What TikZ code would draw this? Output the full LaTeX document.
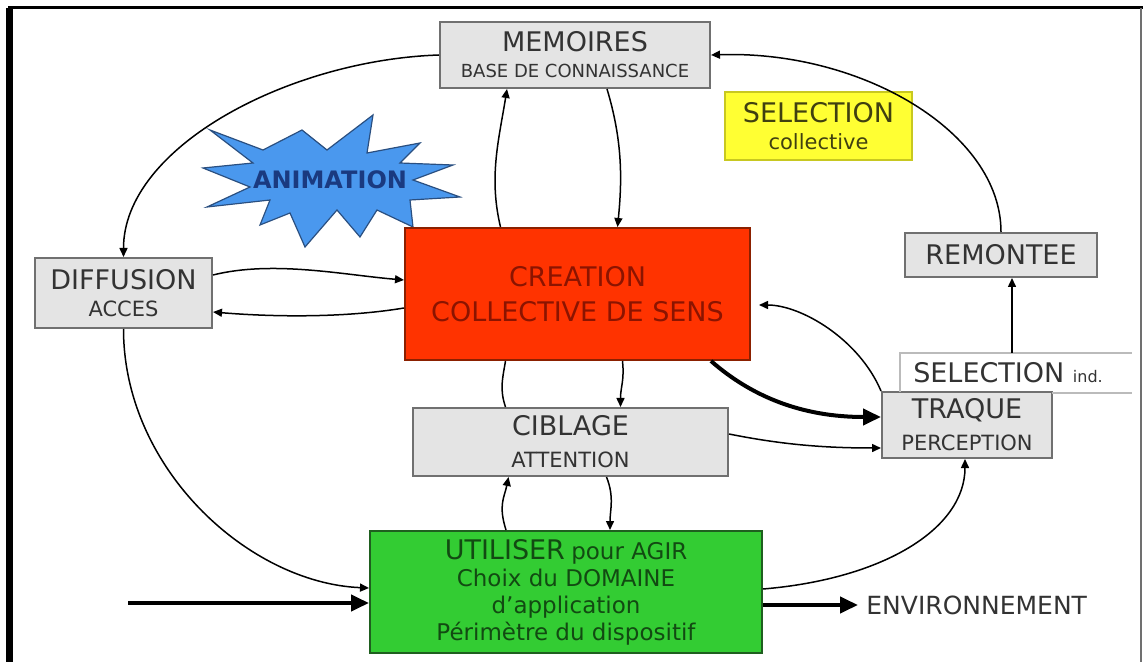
\documentclass[tikz,border=0pt]{standalone}
\usepackage{fontspec}
\setmainfont{DejaVu Sans}
\usetikzlibrary{arrows.meta,calc}

\definecolor{boxgray}{HTML}{E4E4E4}
\definecolor{edgegray}{HTML}{707070}
\definecolor{textgray}{HTML}{333333}
\definecolor{selyellow}{HTML}{FFFF33}
\definecolor{seledge}{HTML}{C8C820}
\definecolor{seltext}{HTML}{404010}
\definecolor{creafill}{HTML}{FF3300}
\definecolor{creaedge}{HTML}{8B2000}
\definecolor{creatext}{HTML}{8B1400}
\definecolor{utilfill}{HTML}{33CC33}
\definecolor{utiledge}{HTML}{1F5F1F}
\definecolor{utiltext}{HTML}{124A12}
\definecolor{burstfill}{HTML}{4A98EE}
\definecolor{burstedge}{HTML}{2A4F80}
\definecolor{bursttext}{HTML}{1A3A80}
\definecolor{frameline}{HTML}{BBBBBB}

% text sizes; the line spacing is set per box through its font key
\newcommand\txtbig{\fontsize{13.5}{13.5}\selectfont}
\newcommand\txtsmall{\fontsize{10.5}{10.5}\selectfont}
\newcommand\txtmid{\fontsize{11.5}{11.5}\selectfont}

\begin{document}
\begin{tikzpicture}[x=0.5pt,y=-0.5pt,
  box/.style={draw=edgegray, line width=1pt, fill=boxgray, text=textgray,
    align=center, inner sep=0pt},
  lines/.style={font=\fontsize{10}{#1}\selectfont},
  conn/.style={line width=0.75pt, -{Triangle[length=4.5pt,width=4pt]}},
  plainconn/.style={line width=0.75pt},
  heavyconn/.style={line width=2pt, -{Triangle[length=9pt,width=8pt]}}]

\useasboundingbox (0,0) rectangle (1145,662);
\fill[white] (0,0) rectangle (1145,662);

% outer frame
\draw[line width=3.5pt] (9.5,8) -- (9.5,662);
\draw[line width=1.5pt] (8,8) -- (1143,8);
\draw[edgegray, line width=1pt] (1141,8) -- (1141,662);

% starburst behind the central box
\draw[fill=burstfill, draw=burstedge, line width=0.6pt, line join=miter]
  (210,130) -- (263,150) -- (302,130) -- (327,150) -- (373,115) -- (367,153)
  -- (420,143) -- (400,163) -- (453,165) -- (413,180) -- (460,197) -- (410,200)
  -- (413,227) -- (377,210) -- (360,237) -- (337,210) -- (305,247) -- (290,213)
  -- (260,225) -- (270,200) -- (207,207) -- (250,187) -- (203,168) -- (253,163)
  -- cycle;
\node[text=bursttext, font=\bfseries\fontsize{12}{14}\selectfont] (anim) at (330,180) {ANIMATION};

% boxes
\node[box, lines=13, minimum width=135pt, minimum height=33pt] (mem) at (575,55)
  {\txtbig MEMOIRES\\\fontsize{9}{9}\selectfont BASE DE CONNAISSANCE};
\node[box, lines=13.5, fill=selyellow, draw=seledge, text=seltext, minimum width=93.5pt, minimum height=34pt] (selc) at (818.5,126)
  {\txtbig SELECTION\\\txtsmall collective};
\node[box, lines=13.5, minimum width=88.5pt, minimum height=35pt] (diff) at (123.5,293)
  {\txtbig DIFFUSION\\\txtsmall ACCES};
\node[box, lines=17.5, fill=creafill, draw=creaedge, text=creatext, minimum width=172.5pt, minimum height=66pt] (crea) at (577.5,294)
  {\txtbig CREATION\\\txtbig COLLECTIVE DE SENS};
\node[box, minimum width=96pt, minimum height=22pt] (rem) at (1001,255)
  {\txtbig REMONTEE};
\node[box, lines=16, minimum width=85pt, minimum height=33pt] (traq) at (967,425)
  {\txtbig TRAQUE\\\txtsmall PERCEPTION};
\node[box, lines=16, minimum width=157.5pt, minimum height=34pt] (cib) at (570.5,442)
  {\txtbig CIBLAGE\\\txtsmall ATTENTION};
\node[box, lines=13.5, fill=utilfill, draw=utiledge, text=utiltext, minimum width=196pt, minimum height=61pt] (util) at (566,592)
  {{\txtbig UTILISER} \txtmid pour AGIR\\
   \txtmid Choix du DOMAINE\\
   \txtmid d'application\\
   \txtmid Périmètre du dispositif};

% individual selection, partly framed
\node[text=textgray, inner sep=0pt] (selind) at (1008,373)
  {\txtbig SELECTION \fontsize{8}{10}\selectfont ind.};
\draw[frameline, line width=0.8pt] (900,392) -- (900,353) -- (1132,353);
\draw[frameline, line width=0.8pt] (1052,393) -- (1132,393);
\coordinate (seltop) at (1012,353);

% environment output
\node[text=textgray, anchor=west, inner sep=4pt, font=\fontsize{12.5}{14}\selectfont] (env) at (858,605) {ENVIRONNEMENT};
\coordinate (inflow) at (128,603);

% connectors
\draw[conn] (mem.west) .. controls +(-150,5) and +(0,-110) .. (diff.north);
\draw[conn] (rem.north) .. controls +(0,-100) and +(150,-5) .. (mem.east);
\draw[conn] ($(crea.north)+(-77,0)$) .. controls +(-12,-50) and +(-8,50) .. ($(mem.south)+(-68,0)$);
\draw[conn] ($(mem.south)+(32,0)$) .. controls +(15,50) and +(5,-50) .. ($(crea.north)+(40,0)$);
\draw[conn] ($(diff.east)+(0,-18)$) .. controls +(60,-15) and +(-60,-5) .. ($(crea.west)+(0,-14)$);
\draw[conn] ($(crea.west)+(0,14)$) .. controls +(-60,10) and +(60,5) .. ($(diff.east)+(0,19)$);
\draw[conn] (diff.south) .. controls +(0,140) and +(-120,-5) .. ($(util.west)+(0,-4)$);
\draw[heavyconn] (inflow) -- ($(util.west)+(0,11)$);
\draw[heavyconn] ($(util.east)+(0,13)$) -- (env.west);
\draw[conn] ($(util.east)+(0,-3)$) .. controls +(120,-10) and +(0,70) .. ($(traq.south)+(-2,0)$);
\draw[conn] ($(util.north)+(-60,0)$) .. controls +(-8,-25) and +(-4,20) .. ($(cib.south)+(-62,0)$);
\draw[conn] ($(cib.south)+(36,0)$) .. controls +(8,20) and +(0,-20) .. ($(util.north)+(44,0)$);
\draw[plainconn] ($(cib.north)+(-65,0)$) .. controls +(-6,-18) and +(-3,18) .. ($(crea.south)+(-72,0)$);
\draw[conn] ($(crea.south)+(45,0)$) .. controls +(2,20) and +(0,-20) .. ($(cib.north)+(50,0)$);
\draw[heavyconn] ($(crea.south east)+(-40,0)$) .. controls +(40,35) and +(-80,0) .. ($(traq.west)+(0,-8)$);
\draw[conn] ($(cib.east)+(0,-8)$) .. controls +(50,10) and +(-60,0) .. ($(traq.west)+(0,23)$);
\draw[conn] (traq.north west) .. controls +(-22,-52) and +(42,0) .. ($(crea.east)+(8,11)$);
\draw[conn] (seltop) -- ($(rem.south)+(11,0)$);

\end{tikzpicture}
\end{document}
